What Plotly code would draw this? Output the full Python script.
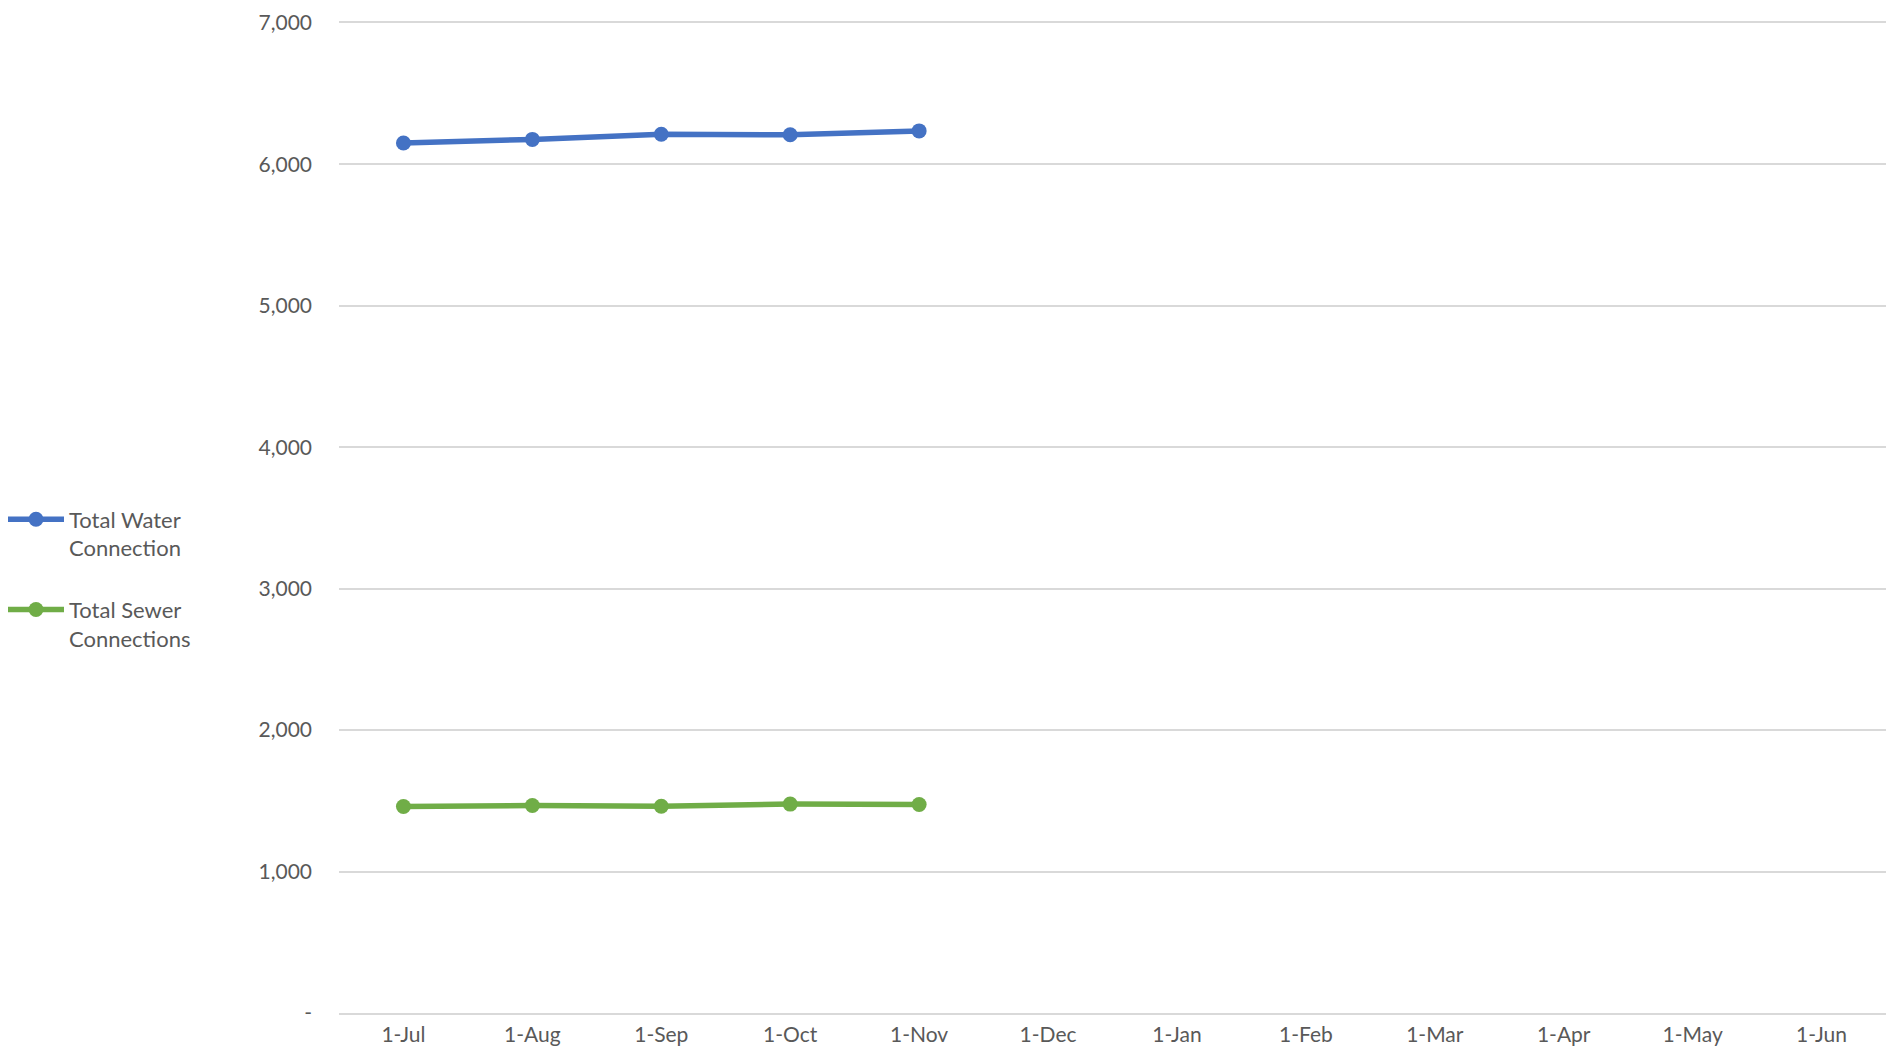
import plotly.graph_objects as go

months = ["1-Jul", "1-Aug", "1-Sep", "1-Oct", "1-Nov", "1-Dec",
          "1-Jan", "1-Feb", "1-Mar", "1-Apr", "1-May", "1-Jun"]
data_months = ["1-Jul", "1-Aug", "1-Sep", "1-Oct", "1-Nov"]
water = [6152, 6177, 6213, 6210, 6237]
sewer = [1460, 1467, 1462, 1477, 1474]
y_tickvals = [0, 1000, 2000, 3000, 4000, 5000, 6000, 7000]
y_ticktext = ["-", "1,000", "2,000", "3,000", "4,000", "5,000", "6,000", "7,000"]

# page body has an 8px margin, so the figure is sized to fit the window
W, H = 1880, 1040
L, R, T, B = 331, 2, 15, 35
PW, PH = W - L - R, H - T - B

fig = go.Figure()
fig.add_trace(go.Scatter(
    x=data_months, y=water, mode="lines+markers",
    name="Total Water<br>Connection", legendgroup="w",
    line=dict(color="#4472C4", width=5.5),
    marker=dict(color="#4472C4", size=15)))
fig.add_trace(go.Scatter(
    x=data_months, y=sewer, mode="lines+markers",
    name="Total Sewer<br>Connections", legendgroup="s",
    line=dict(color="#70AD47", width=5.5),
    marker=dict(color="#70AD47", size=15)))

fam = "Lato, 'Open Sans', sans-serif"
tick_font = dict(family=fam, size=21, color="#595959")

fig.update_layout(
    width=W, height=H,
    margin=dict(l=L, r=R, t=T, b=B, autoexpand=False),
    paper_bgcolor="white", plot_bgcolor="white",
    font=tick_font,
    showlegend=True,
    legend=dict(
        x=(-5 - L) / PW, xanchor="left",
        y=(H - B - 571) / PH, yanchor="middle",
        font=dict(family=fam, size=22, color="#595959"),
        tracegroupgap=30, valign="top", itemwidth=56,
        bgcolor="rgba(0,0,0,0)"),
    xaxis=dict(
        type="category", categoryorder="array", categoryarray=months,
        range=[-0.5, len(months) - 0.5],
        tickvals=months, ticktext=months,
        showgrid=False, zeroline=False,
        showline=True, mirror=True, linecolor="#d9d9d9", linewidth=1.5,
        ticks="", ticklabelstandoff=2, automargin=False,
        ticklabeloverflow="allow", tickfont=tick_font),
    yaxis=dict(
        range=[0, 7000], tickvals=y_tickvals, ticktext=y_ticktext,
        showgrid=True, gridcolor="#d9d9d9", gridwidth=1.5,
        zeroline=False, showline=False, ticks="", automargin=False,
        ticklabeloverflow="allow",
        ticklabelstandoff=26, tickfont=tick_font),
)

fig.write_html("out.html")
